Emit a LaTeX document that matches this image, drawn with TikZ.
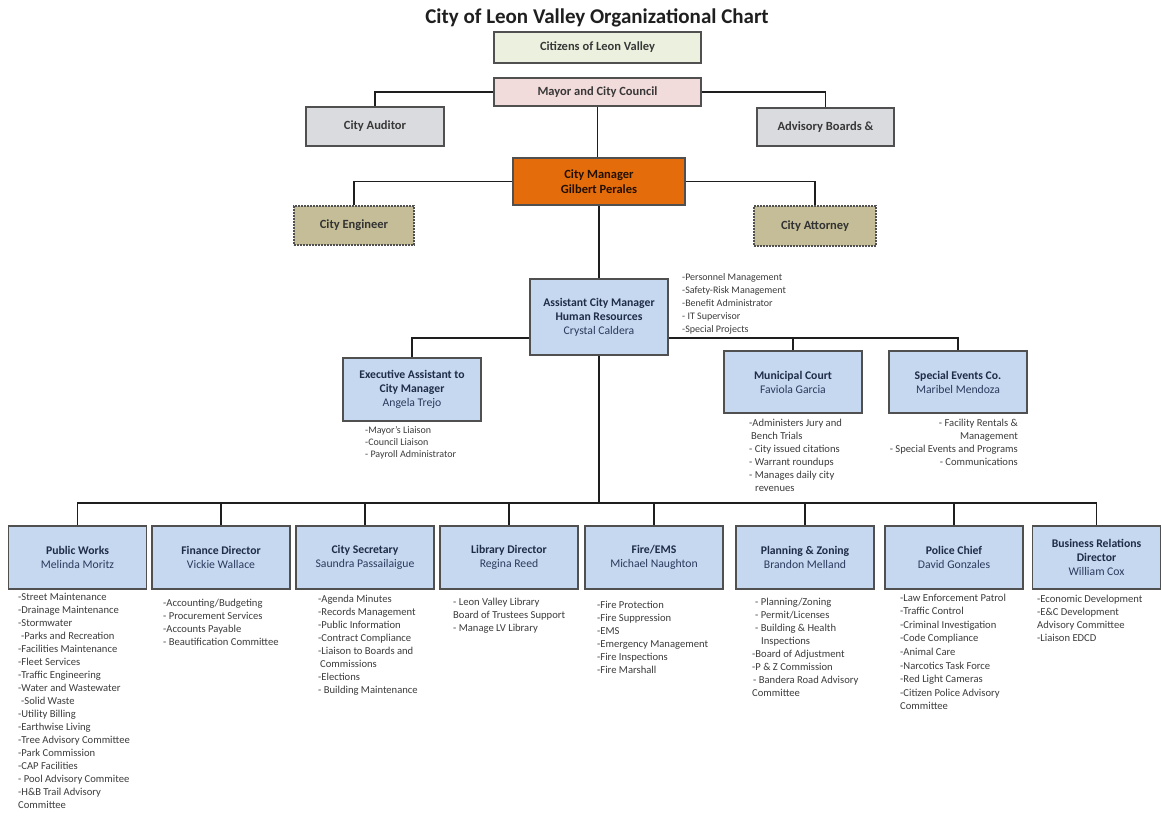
\documentclass[tikz,border=0pt]{standalone}
\usepackage{fontspec}
\setmainfont{Carlito}
\definecolor{bordercol}{HTML}{505050}
\definecolor{boxblue}{HTML}{C6D8EF}
\definecolor{citfill}{HTML}{EBF1DE}
\definecolor{mayfill}{HTML}{F2DCDB}
\definecolor{grayfill}{HTML}{DADBDF}
\definecolor{cmfill}{HTML}{E46C0A}
\definecolor{khaki}{HTML}{C4BD97}
\definecolor{navy}{HTML}{1F2C48}
\definecolor{namecol}{HTML}{2A3A5E}
\definecolor{listgray}{HTML}{3C3C3C}
\definecolor{linecol}{HTML}{1E1E1E}
\tikzset{
  base/.style={draw=bordercol, line width=1.5pt, align=center, inner sep=2pt},
  topbox/.style={base, font=\bfseries\fontsize{12.5}{15}\selectfont, text=black!78},
  bluebox/.style={base, fill=boxblue, minimum width=138pt, minimum height=63pt,
     font=\fontsize{11.7}{14}\selectfont, text=namecol},
  dashbox/.style={topbox, fill=khaki, dash pattern=on 2pt off 1pt, line width=1.3pt, text=black!80},
  lst/.style={anchor=north west, align=left, inner sep=0pt,
     font=\fontsize{10.6}{13}\selectfont, text=listgray},
  lstr/.style={lst, anchor=north east, align=right},
  conn/.style={draw=linecol, line width=1.3pt}
}
\newcommand{\bt}[1]{{\bfseries\color{navy}#1}}
\begin{document}
\begin{tikzpicture}[x=1pt,y=-1pt]
\useasboundingbox (0,0) rectangle (1162,815);
\fill[white] (0,0) rectangle (1162,815);

\node[font=\bfseries\fontsize{21}{24}\selectfont, text=black!88] (title) at (597,18) {City of Leon Valley Organizational Chart};

\node[topbox, fill=citfill, minimum width=207pt, minimum height=31pt] (cit) at (597.5,47.5) {Citizens of Leon Valley};
\node[topbox, fill=mayfill, minimum width=207pt, minimum height=28pt] (mayor) at (597.5,92) {Mayor and City Council};
\node[topbox, fill=grayfill, minimum width=138pt, minimum height=39pt] (aud) at (375,126.5) {City Auditor};
\node[topbox, fill=grayfill, minimum width=137pt, minimum height=38pt] (adv) at (825.5,127) {Advisory Boards \&};
\node[topbox, fill=cmfill, minimum width=172pt, minimum height=47pt, text={black!85!cmfill}] (cm) at (599,181.5) {City Manager\\Gilbert Perales};
\node[dashbox, minimum width=120pt, minimum height=39pt] (eng) at (354,225.5) {City Engineer};
\node[dashbox, minimum width=122pt, minimum height=40pt] (att) at (815,226) {City Attorney};

\node[bluebox, minimum height=76pt] (acm) at (599,317) {\bt{Assistant City Manager}\\\bt{Human Resources}\\Crystal Caldera};
\node[lst, font=\fontsize{10}{13}\selectfont] (hrl) at (682,273.5) {-Personnel Management\\-Safety-Risk Management\\-Benefit Administrator\\- IT Supervisor\\-Special Projects};

\node[bluebox] (exec) at (412,389.5) {\bt{Executive Assistant to}\\\bt{City Manager}\\Angela Trejo};
\node[lst, font=\fontsize{10}{11.8}\selectfont] (execl) at (365,426.5) {-Mayor's Liaison\\-Council Liaison\\- Payroll Administrator};

\node[bluebox, minimum height=62pt] (mc) at (793,382) {\bt{Municipal Court}\\Faviola Garcia};
\node[lst] (mcl) at (749,418.5) {-Administers Jury and\\\hspace*{2pt}Bench Trials\\- City issued citations\\- Warrant roundups\\- Manages daily city\\\hspace*{6pt}revenues};

\node[bluebox, minimum height=62pt] (se) at (958,382) {\bt{Special Events Co.}\\Maribel Mendoza};
\node[lstr] (sel) at (1018,418.5) {- Facility Rentals \&\\Management\\- Special Events and Programs\\- Communications};

\coordinate (bus) at (599,503);

\node[bluebox] (pw) at (77.5,557.5) {\bt{Public Works}\\Melinda Moritz};
\node[bluebox] (fin) at (221,557.5) {\bt{Finance Director}\\Vickie Wallace};
\node[bluebox] (sec) at (365,557.5) {\bt{City Secretary}\\Saundra Passailaigue};
\node[bluebox] (lib) at (509,557.5) {\bt{Library Director}\\Regina Reed};
\node[bluebox] (fire) at (654,557.5) {\bt{Fire/EMS}\\Michael Naughton};
\node[bluebox] (plan) at (805,557.5) {\bt{Planning \& Zoning}\\Brandon Melland};
\node[bluebox] (pol) at (954,557.5) {\bt{Police Chief}\\David Gonzales};
\node[bluebox, minimum width=128pt] (bus1) at (1096.5,557.5) {\bt{Business Relations}\\\bt{Director}\\William Cox};

\node[lst] (pwl) at (18,592.5) {-Street Maintenance\\-Drainage Maintenance\\-Stormwater\\\hspace*{3pt}-Parks and Recreation\\-Facilities Maintenance\\-Fleet Services\\-Traffic Engineering\\-Water and Wastewater\\\hspace*{3pt}-Solid Waste\\-Utility Billing\\-Earthwise Living\\-Tree Advisory Committee\\-Park Commission\\-CAP Facilities\\- Pool Advisory Commitee\\-H\&B Trail Advisory\\Committee};
\node[lst] (finl) at (163,598.5) {-Accounting/Budgeting\\- Procurement Services\\-Accounts Payable\\- Beautification Committee};
\node[lst] (secl) at (318,594.5) {-Agenda Minutes\\-Records Management\\-Public Information\\-Contract Compliance\\-Liaison to Boards and\\\hspace*{2pt}Commissions\\-Elections\\- Building Maintenance};
\node[lst] (libl) at (453,597.5) {- Leon Valley Library\\Board of Trustees Support\\- Manage LV Library};
\node[lst] (firel) at (597,600.5) {-Fire Protection\\-Fire Suppression\\-EMS\\-Emergency Management\\-Fire Inspections\\-Fire Marshall};
\node[lst] (planl) at (752,597.5) {\hspace*{3pt}- Planning/Zoning\\\hspace*{3pt}- Permit/Licenses\\\hspace*{3pt}- Building \& Health\\\hspace*{9pt}Inspections\\-Board of Adjustment\\-P \& Z Commission\\\hspace*{1pt}- Bandera Road Advisory\\Committee};
\node[lst, font=\fontsize{10.6}{13.6}\selectfont] (poll) at (900,593.5) {-Law Enforcement Patrol\\-Traffic Control\\-Criminal Investigation\\-Code Compliance\\-Animal Care\\-Narcotics Task Force\\-Red Light Cameras\\-Citizen Police Advisory\\Committee};
\node[lst] (busl) at (1037,594.5) {-Economic Development\\-E\&C Development\\Advisory Committee\\-Liaison EDCD};

% connectors
\draw[conn] (mayor.west) -| (aud.north);
\draw[conn] (mayor.east) -| (adv.north);
\draw[conn] (mayor.south) -- (mayor.south |- cm.north);
\draw[conn] (cm.west) -| (eng.north);
\draw[conn] (cm.east) -| (att.north);
\draw[conn] (cm.south) -- (acm.north);
\draw[conn] ([yshift=-21pt]acm.west) -| (exec.north);
\draw[conn] ([yshift=-21pt]acm.east) -| (mc.north);
\draw[conn] ([yshift=-21pt]acm.east) -| (se.north);
\draw[conn] (acm.south) -- (bus);
\foreach \b in {pw,fin,sec,lib,fire,plan,pol,bus1}{
  \draw[conn] (bus) -| (\b.north);
}
\end{tikzpicture}
\end{document}
